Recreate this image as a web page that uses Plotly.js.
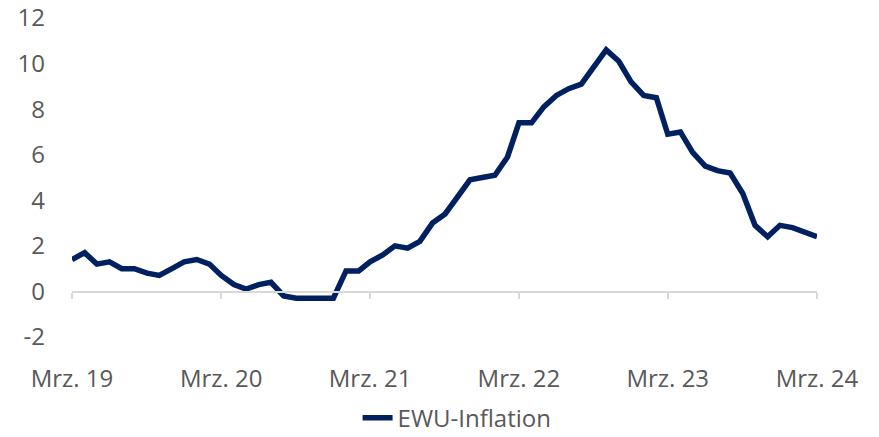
<!DOCTYPE html>
<html><head><meta charset="utf-8">
<script src="https://cdn.plot.ly/plotly-3.0.1.min.js"></script>
<style>html,body{margin:0;padding:0;background:#fff}#c{width:879px;height:437px}</style>
</head><body><div id="c"></div>
<script>
const months = [
"2019-03","2019-04","2019-05","2019-06","2019-07","2019-08","2019-09","2019-10","2019-11","2019-12",
"2020-01","2020-02","2020-03","2020-04","2020-05","2020-06","2020-07","2020-08","2020-09","2020-10","2020-11","2020-12",
"2021-01","2021-02","2021-03","2021-04","2021-05","2021-06","2021-07","2021-08","2021-09","2021-10","2021-11","2021-12",
"2022-01","2022-02","2022-03","2022-04","2022-05","2022-06","2022-07","2022-08","2022-09","2022-10","2022-11","2022-12",
"2023-01","2023-02","2023-03","2023-04","2023-05","2023-06","2023-07","2023-08","2023-09","2023-10","2023-11","2023-12",
"2024-01","2024-02","2024-03"];
const inflation = [
1.4,1.7,1.2,1.3,1.0,1.0,0.8,0.7,1.0,1.3,
1.4,1.2,0.7,0.3,0.1,0.3,0.4,-0.2,-0.3,-0.3,-0.3,-0.3,
0.9,0.9,1.3,1.6,2.0,1.9,2.2,3.0,3.4,4.1,4.9,5.0,
5.1,5.9,7.4,7.4,8.1,8.6,8.9,9.1,9.9,10.6,10.1,9.2,
8.6,8.5,6.9,7.0,6.1,5.5,5.3,5.2,4.3,2.9,2.4,2.9,
2.8,2.6,2.4];
const tickVals = ["2019-03","2020-03","2021-03","2022-03","2023-03","2024-03"];
const tickText = ["Mrz. 19","Mrz. 20","Mrz. 21","Mrz. 22","Mrz. 23","Mrz. 24"];
const yTicks = [-2,0,2,4,6,8,10,12];
const yTickText = ["-2","0","2","4","6","8","10","12"];
const seriesName = "EWU-Inflation";

const font = {family: "'Open Sans', sans-serif", size: 24, color: "#595959"};
Plotly.newPlot("c", [{
  x: months, y: inflation, type: "scatter", mode: "lines", name: seriesName,
  line: {color: "#002060", width: 5.5}
}], {
  width: 879, height: 437,
  margin: {l: 72, r: 62, t: 18, b: 100},
  paper_bgcolor: "#fff", plot_bgcolor: "#fff",
  font: font,
  showlegend: true,
  legend: {orientation: "h", x: 0.52, xref: "container", xanchor: "center", y: 0.043, yref: "container", yanchor: "middle", font: font},
  xaxis: {
    type: "date", range: ["2019-03-01","2024-03-01"],
    tickvals: tickVals, ticktext: tickText,
    anchor: "free", position: 2/14, automargin: false,
    showline: true, linecolor: "#d9d9d9", linewidth: 1.5,
    ticks: "outside", ticklen: 6, tickcolor: "#d9d9d9", tickwidth: 1.5,
    ticklabelstandoff: 59,
    showgrid: false, zeroline: false, tickfont: font
  },
  yaxis: {
    range: [-2, 12], tickvals: yTicks, ticktext: yTickText, automargin: false,
    showgrid: false, zeroline: false, showline: false,
    ticklabelstandoff: 26, tickfont: font
  }
}, {displayModeBar: false, staticPlot: true});
</script></body></html>
